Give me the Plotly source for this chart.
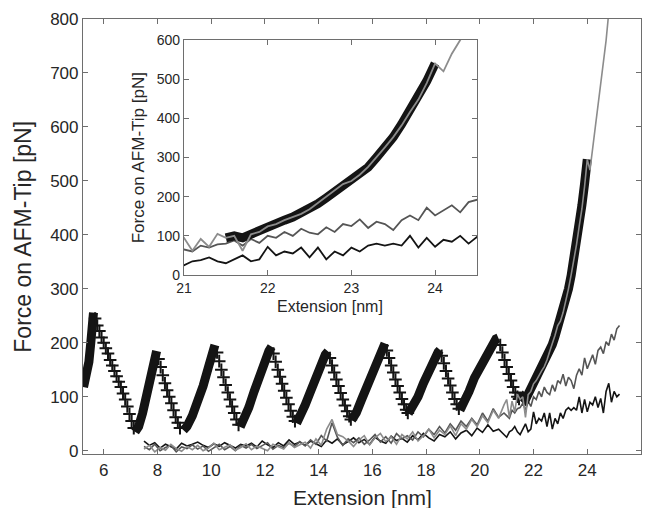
import numpy as np
import plotly.graph_objects as go

# ---------------- data ----------------
# sampling grid of the three noisy traces: coarse 7.5-20.9, fine 21.0-25.2
x_noise = np.round(np.concatenate([np.arange(7.5, 20.95, 0.2), np.arange(21.0, 25.25, 0.1)]), 2)

black_noise = [18, 10, 15, 5, 12, 8, 3, 14, 9, 12,
               16, 10, 6, 13, 8, 15, 10, 5, 12, 9,
               14, 7, 18, 11, 6, 15, 9, 20, 12, 16,
               10, 18, 13, 8, 20, 14, 22, 11, 17, 24,
               15, 21, 12, 25, 18, 14, 27, 19, 23, 16,
               28, 20, 32, 24, 18, 30, 26, 35, 22, 33,
               38, 28, 42, 34, 48, 36, 40, 30,
               25, 35, 38, 45, 35, 30, 40, 50, 35, 40,
               72, 50, 60, 55, 70, 45, 70, 40, 60, 50,
               70, 60, 75, 80, 75, 80, 75, 100, 70, 95,
               72, 90, 85, 100, 80, 97,
               70, 110, 125, 90, 110, 100, 105]

dgray_noise = [8, 2, 12, 0, 6, 10, -2, 7, 4, 11,
               3, 9, -1, 6, 12, 2, 8, 0, 10, 5,
               12, 4, 9, 15, 3, 10, 6, 14, 8, 17,
               9, 20, 12, 28, 18, 52, 25, 10, 22, 15,
               24, 12, 20, 30, 16, 26, 14, 32, 22, 28,
               20, 35, 26, 40, 30, 45, 33, 50, 38, 55,
               45, 60, 48, 70, 55, 78, 62, 70,
               65, 60, 75, 70, 78, 80, 88, 75, 92, 82,
               100, 95, 110, 100, 118, 108, 104, 122, 110, 130,
               125, 142, 120, 136, 130, 115, 140, 152, 140, 172,
               152, 166, 178, 160, 186, 192,
               180, 202, 195, 216, 205, 226, 232]

lgray_noise = [3, 10, -2, 6, 1, 12, 4, -1, 8, 2,
               10, 0, 5, 14, 2, 7, 11, 1, 6, 13,
               2, 9, 5, 0, 12, 7, 3, 15, 6, 11,
               16, 5, 22, 10, 40, 58, 30, 26, 18, 8,
               20, 28, 11, 24, 32, 17, 26, 12, 30, 22,
               35, 18, 28, 40, 24, 38, 30, 46, 28, 50,
               40, 58, 45, 65, 52, 75, 60, 85,
               95, 62, 92, 72, 105, 95, 100, 62, 104, 110,
               124, 130, 140, 148, 156, 168, 184, 198, 214, 232,
               240, 256, 276, 300, 326, 352, 382, 416, 448, 490,
               540, 520, 565, 600, 640, 680,
               718, 760, 812, 850, 890, 930, 970]

# rising (dense, thick) parts of the saw-tooth unfolding trace
rise_x = [[5.25, 5.35, 5.45, 5.52, 5.58, 5.62],
          [7.17, 7.3, 7.45, 7.6, 7.75, 7.88, 7.97],
          [8.97, 9.1, 9.3, 9.5, 9.7, 9.9, 10.05, 10.14],
          [11.08, 11.2, 11.4, 11.6, 11.8, 12.0, 12.15, 12.25],
          [13.18, 13.3, 13.5, 13.7, 13.9, 14.1, 14.25, 14.35],
          [15.23, 15.4, 15.6, 15.8, 16.0, 16.2, 16.38, 16.47],
          [17.34, 17.5, 17.7, 17.9, 18.1, 18.3, 18.45, 18.52],
          [19.26, 19.4, 19.6, 19.8, 20.0, 20.2, 20.4, 20.6, 20.69]]
rise_y = [[118, 135, 165, 200, 240, 256],
          [35, 45, 70, 100, 135, 165, 185],
          [38, 45, 65, 90, 120, 155, 182, 196],
          [44, 55, 80, 110, 140, 165, 185, 193],
          [51, 62, 85, 110, 138, 162, 178, 184],
          [57, 70, 95, 120, 145, 170, 190, 199],
          [69, 80, 100, 125, 150, 170, 183, 187],
          [75, 88, 110, 135, 155, 175, 195, 207, 209]]

# final stretch (shown also in the inset)
final_x = [21.5, 21.6, 21.7, 21.8, 21.9, 22.0, 22.1, 22.2, 22.3, 22.4, 22.5, 22.6, 22.7,
           22.8, 22.9, 23.0, 23.1, 23.2, 23.3, 23.4, 23.5, 23.6, 23.7, 23.8, 23.9, 24.0]
final_y = [95, 100, 95, 105, 115, 122, 130, 140, 148, 158, 170, 182, 197,
           212, 228, 240, 255, 275, 300, 325, 352, 385, 420, 455, 495, 540]

# descending parts ("+" markers)
fall_x = [[5.68, 5.76, 5.84, 5.92, 6.0, 6.08, 6.16, 6.24, 6.32, 6.4, 6.48, 6.56, 6.64, 6.72, 6.8, 6.88, 6.96, 7.04, 7.12],
          [8.04, 8.12, 8.2, 8.28, 8.36, 8.44, 8.52, 8.6, 8.68, 8.76, 8.84],
          [10.22, 10.3, 10.38, 10.46, 10.54, 10.62, 10.7, 10.78, 10.86, 10.94, 11.02],
          [12.32, 12.4, 12.48, 12.56, 12.64, 12.72, 12.8, 12.88, 12.96, 13.04, 13.12],
          [14.42, 14.5, 14.58, 14.66, 14.74, 14.82, 14.9, 14.98, 15.06, 15.14, 15.2],
          [16.54, 16.62, 16.7, 16.78, 16.86, 16.94, 17.02, 17.1, 17.18, 17.26, 17.32],
          [18.58, 18.66, 18.74, 18.82, 18.9, 18.98, 19.06, 19.14, 19.22],
          [20.76, 20.84, 20.92, 21.0, 21.08, 21.16, 21.24, 21.32, 21.4, 21.46]]
fall_y = [[245, 232, 222, 210, 200, 190, 180, 168, 158, 148, 138, 128, 118, 106, 95, 82, 68, 55, 42],
          [170, 155, 140, 125, 112, 100, 88, 75, 62, 52, 42],
          [182, 166, 150, 136, 122, 108, 95, 82, 70, 58, 48],
          [180, 165, 150, 137, 124, 111, 98, 86, 74, 63, 55],
          [172, 158, 145, 132, 120, 107, 95, 84, 73, 64, 58],
          [186, 172, 158, 145, 132, 120, 108, 96, 86, 76, 70],
          [176, 162, 148, 134, 121, 108, 96, 86, 78],
          [196, 182, 168, 155, 142, 130, 118, 108, 100, 96]]

main_xticks = [6, 8, 10, 12, 14, 16, 18, 20, 22, 24, 26]
main_yticks = [0, 100, 200, 300, 400, 500, 600, 700, 800]
inset_xticks = [21, 22, 23, 24]
inset_yticks = [0, 100, 200, 300, 400, 500, 600]

# ---------------- build figure ----------------
def joined(xs_list, ys_list):
    X, Y = [], []
    for xs, ys in zip(xs_list, ys_list):
        X += list(xs) + [None]
        Y += list(ys) + [None]
    return X, Y

thick_x, thick_y = joined(rise_x + [final_x], rise_y + [final_y])
plus_x, plus_y = joined(fall_x, fall_y)

BLACK = "#141414"
DGRAY = "#555555"
LGRAY = "#8c8c8c"

fig = go.Figure()
for ax, ay, wthin, wthick in (("x", "y", 1.6, 9), ("x2", "y2", 1.8, 9)):
    fig.add_trace(go.Scatter(x=x_noise, y=black_noise, mode="lines",
                             line=dict(color=BLACK, width=wthin), xaxis=ax, yaxis=ay))
    fig.add_trace(go.Scatter(x=x_noise, y=dgray_noise, mode="lines",
                             line=dict(color=DGRAY, width=wthin), xaxis=ax, yaxis=ay))
    if ax == "x":
        fig.add_trace(go.Scatter(x=thick_x, y=thick_y, mode="lines",
                                 line=dict(color=BLACK, width=wthick), xaxis=ax, yaxis=ay))
        fig.add_trace(go.Scatter(x=plus_x, y=plus_y, mode="markers",
                                 marker=dict(symbol="cross-thin", size=9, color=BLACK,
                                             line=dict(color=BLACK, width=2)),
                                 xaxis=ax, yaxis=ay))
    else:
        fig.add_trace(go.Scatter(x=final_x, y=final_y, mode="lines",
                                 line=dict(color=BLACK, width=wthick), xaxis=ax, yaxis=ay))
    fig.add_trace(go.Scatter(x=x_noise, y=lgray_noise, mode="lines",
                             line=dict(color=LGRAY, width=wthin), xaxis=ax, yaxis=ay))

FONT = "Liberation Sans, Arial, sans-serif"
TXT = "#262626"
axis_common = dict(showgrid=False, zeroline=False, showline=True, linecolor="#6e6e6e",
                   linewidth=1.2, mirror="ticks", ticks="inside", tickcolor="#6e6e6e",
                   ticklen=5, tickwidth=1.2, color=TXT)

fig.update_layout(
    width=650, height=508,
    margin=dict(l=83, r=9, t=19, b=54),
    paper_bgcolor="white", plot_bgcolor="white",
    showlegend=False,
    font=dict(family=FONT, color=TXT),
    xaxis=dict(domain=[0, 1], range=[5.23, 26], tickvals=main_xticks,
               tickfont=dict(size=17, family=FONT, color=TXT), anchor="y", **axis_common),
    yaxis=dict(domain=[0, 1], range=[-6, 800], tickvals=main_yticks,
               tickfont=dict(size=17, family=FONT, color=TXT), anchor="x", **axis_common),
    xaxis2=dict(domain=[0.181, 0.706], range=[21, 24.5], tickvals=inset_xticks,
                tickfont=dict(size=14, family=FONT, color=TXT), anchor="y2", **axis_common),
    yaxis2=dict(domain=[0.4115, 0.9517], range=[0, 600], tickvals=inset_yticks,
                tickfont=dict(size=14, family=FONT, color=TXT), anchor="x2", **axis_common),
    annotations=[
        dict(text="Force on AFM-Tip [pN]", xref="paper", yref="paper", x=-0.109, y=0.5,
             textangle=-90, showarrow=False, xanchor="center", yanchor="middle",
             font=dict(size=23, family=FONT, color=TXT)),
        dict(text="Extension [nm]", xref="paper", yref="paper", x=0.5, y=-0.099,
             showarrow=False, xanchor="center", yanchor="middle",
             font=dict(size=21, family=FONT, color=TXT)),
        dict(text="Force on AFM-Tip [pN]", xref="paper", yref="paper", x=0.1, y=0.6815,
             textangle=-90, showarrow=False, xanchor="center", yanchor="middle",
             font=dict(size=17, family=FONT, color=TXT)),
        dict(text="Extension [nm]", xref="paper", yref="paper", x=0.4435, y=0.338,
             showarrow=False, xanchor="center", yanchor="middle",
             font=dict(size=16, family=FONT, color=TXT)),
    ],
)

fig.write_html("out.html")
